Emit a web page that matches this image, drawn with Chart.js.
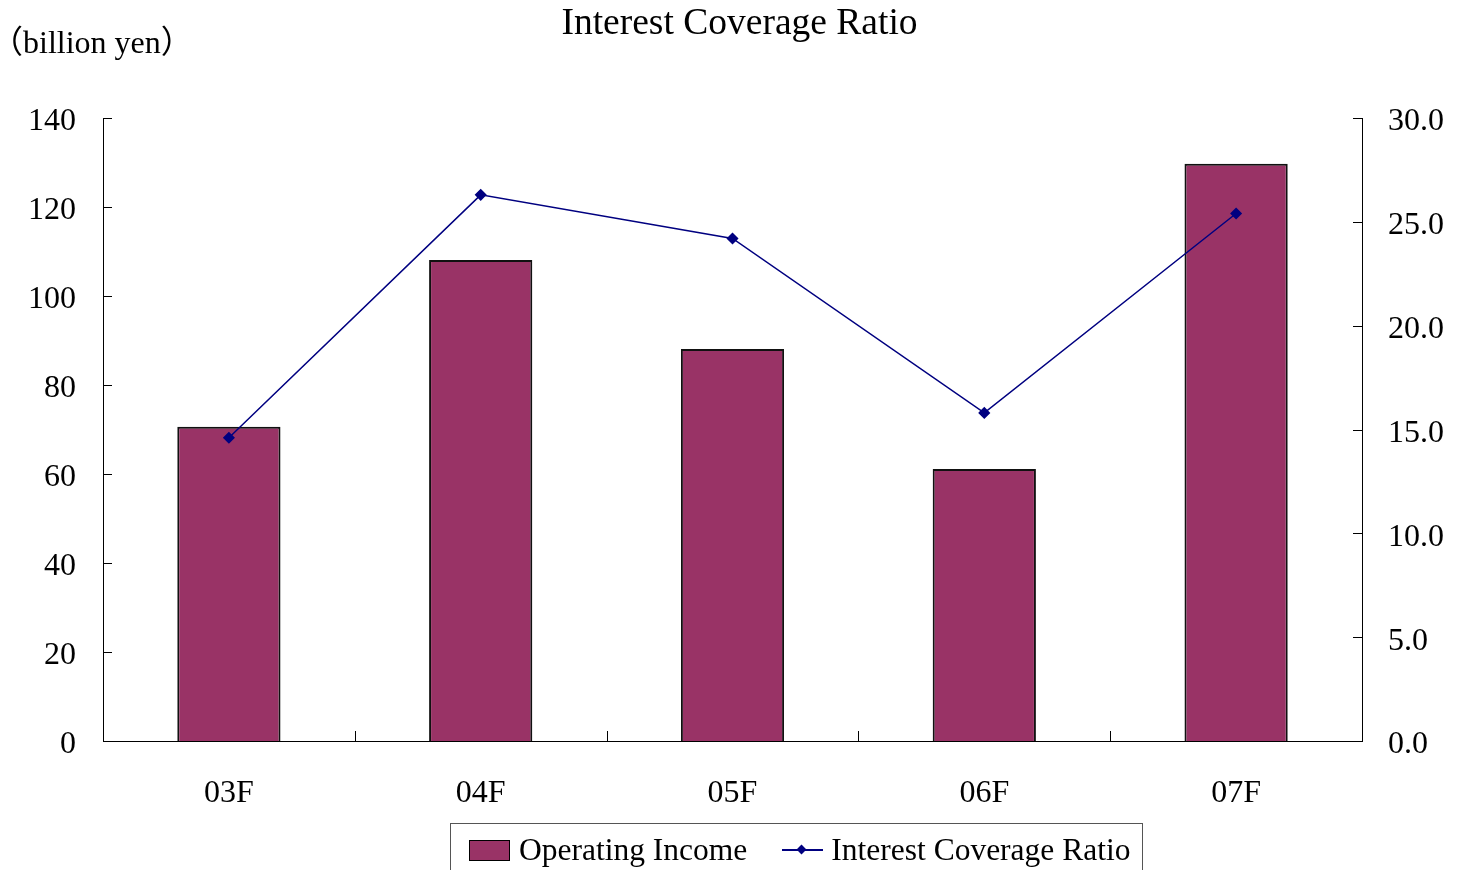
<!DOCTYPE html>
<html>
<head>
<meta charset="utf-8">
<script src="https://cdn.jsdelivr.net/npm/chart.js@4"></script>
<style>
html, body { margin: 0; padding: 0; background: #fff; }
#wrap { position: relative; width: 1459px; height: 870px; overflow: hidden; }
#unit { position: absolute; left: -9px; top: 16px; font-size: 32px; font-family: "Liberation Serif", "Noto Sans CJK JP", serif; color: #000; white-space: nowrap; }
#legend { position: absolute; left: 450px; top: 823px; width: 693px; height: 54px; border: 1px solid #555; box-sizing: border-box;
  display: flex; align-items: center; padding-left: 18px; font-family: "Liberation Serif", serif; font-size: 31.5px; color: #000; }
.sw { width: 41px; height: 21px; box-sizing: border-box; border: 1.5px solid #000; margin-right: 9px; }
.ln { position: relative; width: 41px; height: 2px; margin-right: 8px; margin-left: 35px; }
.ln i { position: absolute; left: 16px; top: -3px; width: 7px; height: 7px; transform: rotate(45deg); }
</style>
</head>
<body>
<div id="wrap">
  <canvas id="myChart" width="1459" height="870"></canvas>
  <div id="unit">（billion yen）</div>
  <div id="legend"></div>
</div>
<script>
// data
const categories = ["03F", "04F", "05F", "06F", "07F"];
const operatingIncome = [70.6, 108.1, 88.1, 61.1, 129.7];
const coverageRatio = [14.6, 26.3, 24.2, 15.8, 25.4];
const leftTicks = [0, 20, 40, 60, 80, 100, 120, 140];
const rightTicks = [0, 5, 10, 15, 20, 25, 30];

Chart.defaults.font.family = '"Liberation Serif", "Times New Roman", serif';
Chart.defaults.color = '#000';

// tick marks pointing into the plot, like the original
const innerTicks = {
  id: 'innerTicks',
  afterDatasetsDraw(chart) {
    const ctx = chart.ctx;
    const area = chart.chartArea;
    const x = chart.scales.x, y = chart.scales.y, y1 = chart.scales.y1;
    ctx.save();
    ctx.strokeStyle = '#000';
    ctx.lineWidth = 1;
    ctx.beginPath();
    y.ticks.forEach((t, i) => {
      const py = Math.round(y.getPixelForTick(i)) + 0.5;
      ctx.moveTo(area.left, py);
      ctx.lineTo(area.left + 9, py);
    });
    y1.ticks.forEach((t, i) => {
      const py = Math.round(y1.getPixelForTick(i)) + 0.5;
      ctx.moveTo(area.right - 9, py);
      ctx.lineTo(area.right, py);
    });
    for (let i = 1; i < categories.length; i++) {
      const px = Math.round((x.getPixelForValue(i - 1) + x.getPixelForValue(i)) / 2) + 0.5;
      ctx.moveTo(px, area.bottom);
      ctx.lineTo(px, area.bottom - 10);
    }
    ctx.stroke();
    ctx.restore();
  }
};

const ctx = document.getElementById("myChart").getContext('2d');
const myChart = new Chart(ctx, {
  type: 'bar',
  data: {
    labels: categories,
    datasets: [
      {
        type: 'line',
        label: 'Interest Coverage Ratio',
        data: coverageRatio,
        yAxisID: 'y1',
        borderColor: '#000080',
        backgroundColor: '#000080',
        borderWidth: 1.5,
        pointStyle: 'rectRot',
        pointRadius: 5,
        pointHoverRadius: 5,
        tension: 0,
        order: 0
      },
      {
        type: 'bar',
        label: 'Operating Income',
        data: operatingIncome,
        yAxisID: 'y',
        backgroundColor: '#993366',
        borderColor: '#111',
        borderWidth: 2,
        barPercentage: 0.41,
        categoryPercentage: 1,
        order: 1
      }
    ]
  },
  options: {
    responsive: false,
    animation: false,
    layout: { padding: { left: 20, right: 0, top: 0, bottom: 0 } },
    plugins: {
      legend: { display: false },
      tooltip: { enabled: false },
      title: {
        display: true,
        text: 'Interest Coverage Ratio',
        font: { size: 37.5, weight: 'normal' },
        color: '#000',
        padding: { top: 2, bottom: 71 }
      }
    },
    scales: {
      x: {
        grid: { display: false, drawTicks: false },
        border: { display: true, color: '#000', width: 1 },
        ticks: { font: { size: 32 }, padding: 33 },
        afterFit(scale) { scale.height = 129; }
      },
      y: {
        position: 'left',
        min: 0,
        max: 140,
        afterBuildTicks(scale) { scale.ticks = leftTicks.map(v => ({ value: v })); },
        grid: { display: false, drawTicks: false },
        border: { display: true, color: '#000', width: 1 },
        ticks: { font: { size: 32 }, padding: 27, labelOffset: 4, callback: v => v },
        afterFit(scale) { scale.width = 83; }
      },
      y1: {
        position: 'right',
        min: 0,
        max: 30,
        afterBuildTicks(scale) { scale.ticks = rightTicks.map(v => ({ value: v })); },
        grid: { display: false, drawTicks: false },
        border: { display: true, color: '#000', width: 1 },
        ticks: { font: { size: 32 }, padding: 26, labelOffset: 4, callback: v => Number(v).toFixed(1) },
        afterFit(scale) { scale.width = 97; }
      }
    }
  },
  plugins: [innerTicks]
});

// legend built from the datasets, bar first
const legend = document.getElementById("legend");
[myChart.data.datasets[1], myChart.data.datasets[0]].forEach(ds => {
  const mark = document.createElement("span");
  if (ds.type === 'bar') {
    mark.className = 'sw';
    mark.style.background = ds.backgroundColor;
  } else {
    mark.className = 'ln';
    mark.style.background = ds.borderColor;
    mark.innerHTML = `<i style="background:${ds.backgroundColor}"></i>`;
  }
  const txt = document.createElement("span");
  txt.textContent = ds.label;
  legend.appendChild(mark);
  legend.appendChild(txt);
});
</script>
</body>
</html>
